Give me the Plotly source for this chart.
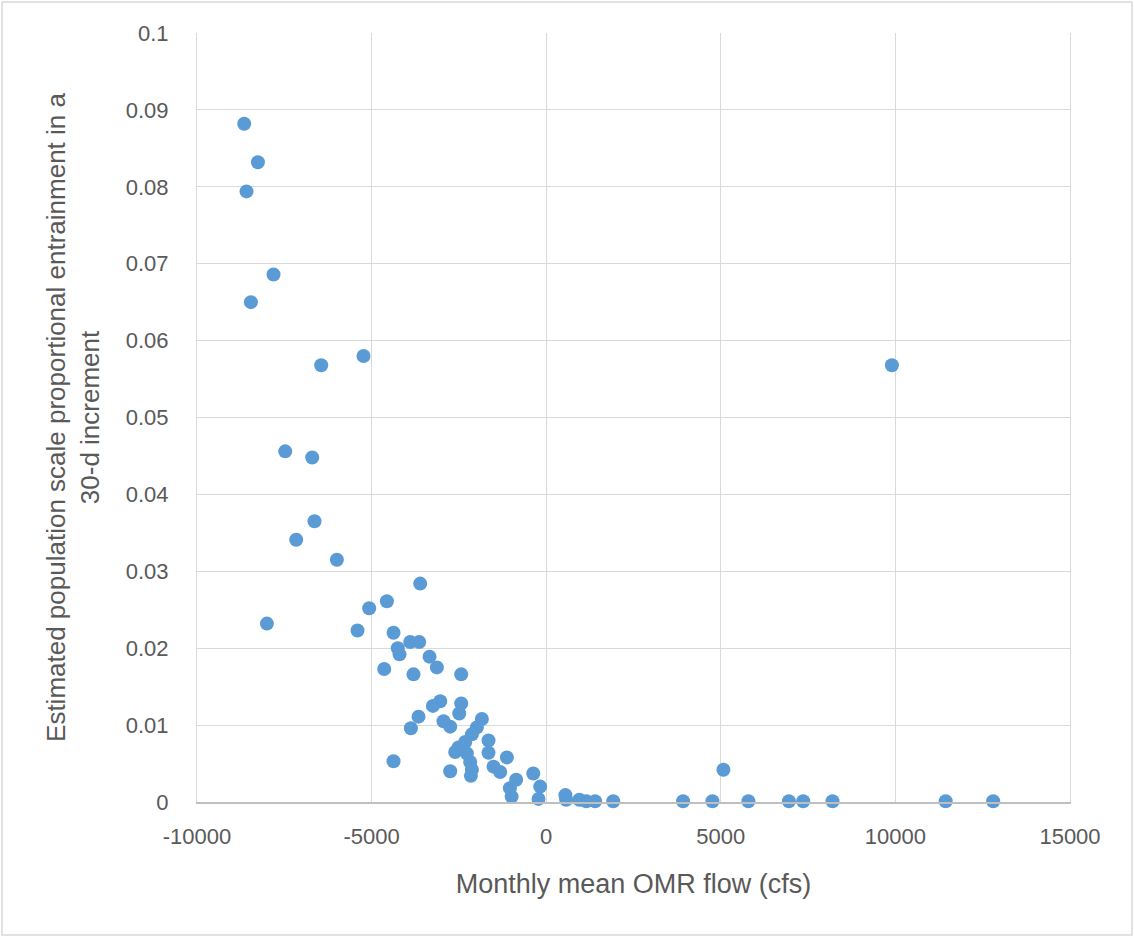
import plotly.graph_objects as go

# Monthly mean OMR flow (cfs)
omr_flow = [
    -8648, -8256, -8582, -7809, -8457, -5231, -6443, -7474, -6701, -6635,
    -7159, -5994, -7998, -3608, -4562, -5069, -5403, -4372, -4250, -4200,
    -3895, -3637, -3341, -3130, -4639, -3800, -2434, -3035, -3245, -2434,
    -2490, -3656, -3875, -2941, -2749, -1842, -1985, -2128, -2320, -2511,
    -2606, -2271, -2176, -2128, -2157, -2749, -4372, -1652, -1652, -1509,
    -1317, -1126, -860, -1040, -990, -370, -172, -220, 550, 573,
    950, 1150, 1400, 1920, 3920, 4760, 5075, 5790, 6950, 7360,
    8200, 9900, 11440, 12800,
]
# Estimated population scale proportional entrainment in a 30-d increment
entrainment = [
    0.0882, 0.0832, 0.0794, 0.0686, 0.0650, 0.0580, 0.0568, 0.0456, 0.0448, 0.0365,
    0.0341, 0.0315, 0.0232, 0.0284, 0.0261, 0.0252, 0.0223, 0.0220, 0.0200, 0.0192,
    0.0208, 0.0208, 0.0189, 0.0175, 0.0173, 0.0166, 0.0166, 0.0131, 0.0125, 0.0128,
    0.0115, 0.0111, 0.0096, 0.0105, 0.0098, 0.0108, 0.0097, 0.0088, 0.0078, 0.0071,
    0.0065, 0.0063, 0.0052, 0.0042, 0.0034, 0.0040, 0.0053, 0.0080, 0.0064, 0.0046,
    0.0039, 0.0058, 0.0029, 0.0018, 0.0007, 0.0037, 0.0020, 0.0004, 0.0009, 0.0003,
    0.0003, 0.0001, 0.0001, 0.0001, 0.0001, 0.0001, 0.0042, 0.0001, 0.0001, 0.0001,
    0.0001, 0.0568, 0.0001, 0.0001,
]

x_ticks = [-10000, -5000, 0, 5000, 10000, 15000]
x_tick_labels = ["-10000", "-5000", "0", "5000", "10000", "15000"]
y_ticks = [0, 0.01, 0.02, 0.03, 0.04, 0.05, 0.06, 0.07, 0.08, 0.09, 0.1]
y_tick_labels = ["0", "0.01", "0.02", "0.03", "0.04", "0.05", "0.06", "0.07", "0.08", "0.09", "0.1"]

FONT = "Liberation Sans"
GREY = "#595959"
GRID = "#D9D9D9"
AXIS = "#BFBFBF"

fig = go.Figure()
fig.add_trace(go.Scatter(
    x=omr_flow, y=entrainment, mode="markers",
    marker=dict(color="#5B9BD5", size=14, line=dict(width=0)),
    showlegend=False, hoverinfo="x+y", cliponaxis=False,
))

W, H = 1134, 937
ml, mr, mt, mb = 197, 64, 33, 135
pw, ph = W - ml - mr, H - mt - mb

fig.update_layout(
    width=W, height=H,
    margin=dict(l=ml, r=mr, t=mt, b=mb),
    paper_bgcolor="white", plot_bgcolor="white",
    font=dict(family=FONT, color=GREY, size=22),
    xaxis=dict(
        range=[-10000, 15000], tickvals=x_ticks, ticktext=x_tick_labels,
        showgrid=True, gridcolor=GRID, gridwidth=1, zeroline=False,
        showline=True, linecolor=AXIS, linewidth=1.5, mirror=False,
        ticks="", tickfont=dict(size=22, color=GREY), ticklabelstandoff=14,
        title=dict(text="Monthly mean OMR flow (cfs)", font=dict(size=27, color=GREY), standoff=26),
        fixedrange=True,
    ),
    yaxis=dict(
        range=[0, 0.1], tickvals=y_ticks, ticktext=y_tick_labels,
        showgrid=True, gridcolor=GRID, gridwidth=1, zeroline=False,
        showline=True, linecolor=GRID, linewidth=1, mirror=True,
        ticks="", tickfont=dict(size=22, color=GREY),
        ticklabelstandoff=23,
        title=dict(text="Estimated population scale proportional entrainment in a<br>30-d increment",
                   font=dict(size=26, color=GREY), standoff=18),
        fixedrange=True,
    ),
    shapes=[dict(
        type="rect", xref="paper", yref="paper",
        x0=(2 - ml) / pw, x1=(W - 2 - ml) / pw,
        y0=-(H - 2 - mt - ph) / ph, y1=1 + (mt - 2) / ph,
        line=dict(color=GRID, width=1.5), fillcolor="rgba(0,0,0,0)", layer="below",
    )],
)

fig.write_html("out.html")
